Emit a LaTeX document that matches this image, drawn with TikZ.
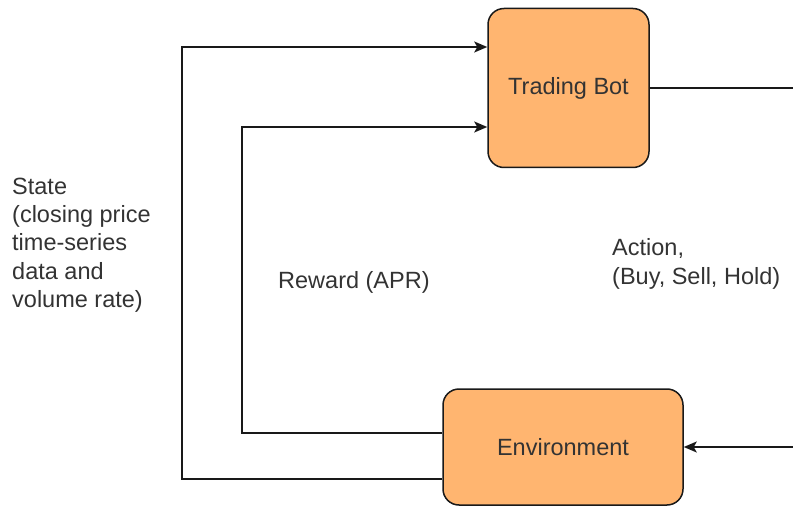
\documentclass[tikz,border=0pt]{standalone}
\usepackage{fontspec}
\setmainfont{Liberation Sans}
\usetikzlibrary{arrows.meta}
\definecolor{boxfill}{HTML}{FFB570}
\definecolor{txt}{HTML}{333333}
\tikzset{
  boxnode/.style={draw=black!90, line width=1.5pt, fill=boxfill, rounded corners=16pt, inner sep=0pt, text=txt,
    font=\fontsize{23.5}{28.3}\selectfont},
  lbl/.style={inner sep=0pt, align=left, text=txt, font=\fontsize{23.5}{28.3}\selectfont},
  conn/.style={line width=1.5pt, draw=black!90},
  arr/.style={conn, -{Stealth[length=13pt, width=11pt, inset=3pt]}}
}
\begin{document}
\begin{tikzpicture}[x=1pt, y=-1pt]
\useasboundingbox (0,0) rectangle (793,508);
\node[boxnode, minimum width=161pt, minimum height=159pt] (bot) at (568.5,88) {Trading Bot};
\node[boxnode, minimum width=240pt, minimum height=116pt] (env) at (563,447) {Environment};
\coordinate (sx) at (182,260);
\coordinate (rx) at (242,260);
\coordinate (ax) at (798,260);
\draw[arr] ([yshift=-32pt]env.west) -| (sx) |- ([yshift=41pt]bot.west);
\draw[arr] ([yshift=14pt]env.west) -| (rx) |- ([yshift=-39pt]bot.west);
\draw[arr] (bot.east) -| (ax) |- (env.east);
\node[lbl, anchor=west] (state) at (12,245) {State\\(closing price\\time-series\\data and\\volume rate)};
\node[lbl, anchor=west] (reward) at (278,282) {Reward (APR)};
\node[lbl, anchor=west] (action) at (612,264) {Action,\\(Buy, Sell, Hold)};
\end{tikzpicture}
\end{document}
